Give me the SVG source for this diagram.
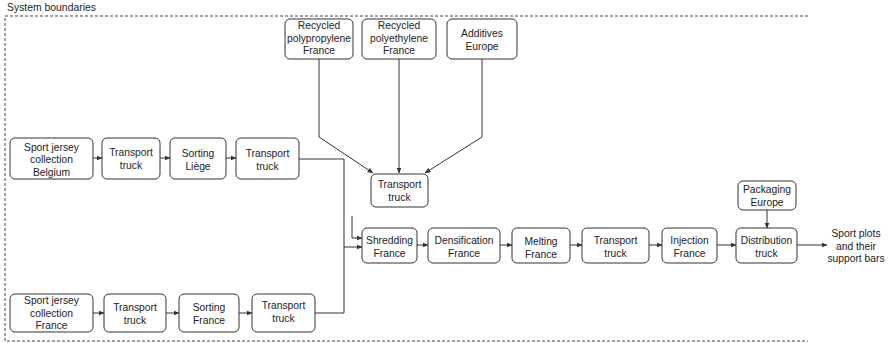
<svg xmlns="http://www.w3.org/2000/svg" width="889" height="343" viewBox="0 0 889 343">
<style>
.b{fill:#fff;stroke:#333;stroke-width:1}
.t{font-family:"Liberation Sans",Arial,sans-serif;font-size:10.3px;fill:#222;text-anchor:middle}
.c{fill:none;stroke:#333;stroke-width:1}
.a{marker-end:url(#ah)}
.bd{fill:none;stroke:#444;stroke-width:1;stroke-dasharray:3,2}
</style>
<defs>
<marker id="ah" markerWidth="6" markerHeight="6" refX="5.5" refY="3" orient="auto" markerUnits="userSpaceOnUse">
<path d="M0,0.5 L6,3 L0,5.5 Z" fill="#333"/>
</marker>
</defs>
<rect width="889" height="343" fill="#fff"/>
<g id="boundary">
<path class="bd" d="M808,16 H5 V341 H808"/>
<text x="7" y="11" style="font-family:'Liberation Sans',Arial,sans-serif;font-size:10.4px;fill:#222">System boundaries</text>
</g>
<g id="connectors">
<path class="c" d="M319,59 V137 L373,173" marker-end="url(#ah)"/>
<path class="c" d="M399,59 V173" marker-end="url(#ah)"/>
<path class="c" d="M482,59 V137 L425,173" marker-end="url(#ah)"/>
<path class="c a" d="M93,158 H102"/>
<path class="c a" d="M160,158 H170"/>
<path class="c a" d="M226,158 H236"/>
<path class="c" d="M299,159 H344 V313 H315"/>
<path class="c a" d="M344,247 H362"/>
<path class="c a" d="M352,216 V238 H362"/>
<path class="c a" d="M93,313 H104"/>
<path class="c a" d="M166,313 H179"/>
<path class="c a" d="M239,313 H252"/>
<path class="c a" d="M417,245 H428"/>
<path class="c a" d="M500,245 H512"/>
<path class="c a" d="M570,245 H582"/>
<path class="c a" d="M649,245 H662"/>
<path class="c a" d="M717,245 H736"/>
<path class="c a" d="M767,210 V228"/>
<path class="c a" d="M797,245 H827"/>
</g>
<g id="n-pp"><rect class="b" x="285" y="19" width="68" height="40" rx="5"/>
<text class="t" x="319" y="29">Recycled</text><text class="t" x="319" y="41.5">polypropylene</text><text class="t" x="319" y="54">France</text></g>
<g id="n-pe"><rect class="b" x="362" y="19" width="74" height="40" rx="5"/>
<text class="t" x="399" y="29">Recycled</text><text class="t" x="399" y="41.5">polyethylene</text><text class="t" x="399" y="54">France</text></g>
<g id="n-add"><rect class="b" x="447" y="19" width="70" height="40" rx="5"/>
<text class="t" x="482" y="37">Additives</text><text class="t" x="482" y="49.5">Europe</text></g>
<g id="n-truck-mid"><rect class="b" x="371" y="174" width="57" height="33" rx="5"/>
<text class="t" x="399.5" y="188">Transport</text><text class="t" x="399.5" y="200.5">truck</text></g>
<g id="n-be-coll"><rect class="b" x="10" y="138" width="83" height="41" rx="5"/>
<text class="t" x="51.5" y="150.5">Sport jersey</text><text class="t" x="51.5" y="163">collection</text><text class="t" x="51.5" y="175.5">Belgium</text></g>
<g id="n-be-t1"><rect class="b" x="102" y="138" width="58" height="41" rx="5"/>
<text class="t" x="131" y="156">Transport</text><text class="t" x="131" y="168.5">truck</text></g>
<g id="n-be-sort"><rect class="b" x="170" y="138" width="56" height="41" rx="5"/>
<text class="t" x="198" y="157">Sorting</text><text class="t" x="198" y="169.5">Liège</text></g>
<g id="n-be-t2"><rect class="b" x="236" y="138" width="63" height="41" rx="5"/>
<text class="t" x="267.5" y="157">Transport</text><text class="t" x="267.5" y="169.5">truck</text></g>
<g id="n-fr-coll"><rect class="b" x="10" y="294" width="83" height="38" rx="5"/>
<text class="t" x="51.5" y="304">Sport jersey</text><text class="t" x="51.5" y="316.5">collection</text><text class="t" x="51.5" y="329">France</text></g>
<g id="n-fr-t1"><rect class="b" x="104" y="294" width="62" height="38" rx="5"/>
<text class="t" x="135" y="311">Transport</text><text class="t" x="135" y="323.5">truck</text></g>
<g id="n-fr-sort"><rect class="b" x="179" y="294" width="60" height="38" rx="5"/>
<text class="t" x="209" y="311">Sorting</text><text class="t" x="209" y="323.5">France</text></g>
<g id="n-fr-t2"><rect class="b" x="252" y="294" width="63" height="38" rx="5"/>
<text class="t" x="283.5" y="309">Transport</text><text class="t" x="283.5" y="321.5">truck</text></g>
<g id="n-shred"><rect class="b" x="362" y="228" width="55" height="35" rx="5"/>
<text class="t" x="389.5" y="244">Shredding</text><text class="t" x="389.5" y="256.5">France</text></g>
<g id="n-dens"><rect class="b" x="428" y="228" width="72" height="35" rx="5"/>
<text class="t" x="464" y="244">Densification</text><text class="t" x="464" y="256.5">France</text></g>
<g id="n-melt"><rect class="b" x="512" y="228" width="58" height="35" rx="5"/>
<text class="t" x="541" y="245">Melting</text><text class="t" x="541" y="257.5">France</text></g>
<g id="n-truck2"><rect class="b" x="582" y="228" width="67" height="35" rx="5"/>
<text class="t" x="615.5" y="244">Transport</text><text class="t" x="615.5" y="256.5">truck</text></g>
<g id="n-inj"><rect class="b" x="662" y="228" width="55" height="35" rx="5"/>
<text class="t" x="689.5" y="244">Injection</text><text class="t" x="689.5" y="256.5">France</text></g>
<g id="n-dist"><rect class="b" x="736" y="228" width="61" height="35" rx="5"/>
<text class="t" x="766.5" y="244">Distribution</text><text class="t" x="766.5" y="256.5">truck</text></g>
<g id="n-pack"><rect class="b" x="738" y="181" width="58" height="29" rx="5"/>
<text class="t" x="767" y="193">Packaging</text><text class="t" x="767" y="205.5">Europe</text></g>
<g id="n-out">
<text class="t" x="856" y="237">Sport plots</text><text class="t" x="856" y="249.5">and their</text><text class="t" x="856" y="262">support bars</text></g>
</svg>
